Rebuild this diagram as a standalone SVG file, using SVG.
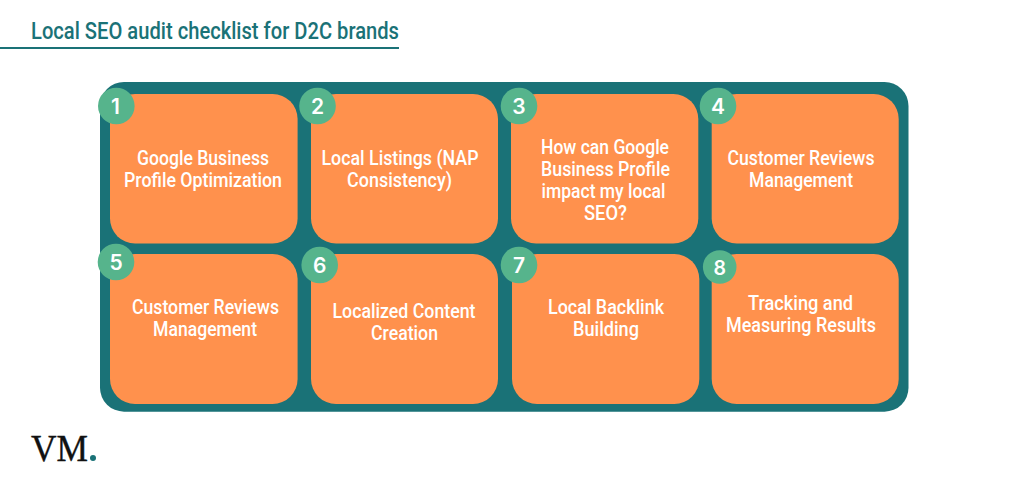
<svg xmlns="http://www.w3.org/2000/svg" width="1024" height="500" viewBox="0 0 1024 500">
<style>
.card{fill:#FF914D}
.badge{fill:#56B48C}
.num{font:600 21px "Inter","Liberation Sans",sans-serif;fill:#fff;text-anchor:middle}
.lbl{font:500 21px "Roboto","Liberation Sans",sans-serif;fill:#fff;text-anchor:middle}
.ttl{font:500 23.5px "Roboto","Liberation Sans",sans-serif;fill:#1A7277}
</style>
<rect width="1024" height="500" fill="#fff"/>
<text class="ttl" x="31" y="39" textLength="368" lengthAdjust="spacingAndGlyphs">Local SEO audit checklist for D2C brands</text>
<rect x="0" y="47" width="399" height="2" fill="#1A7277"/>
<rect x="100" y="82" width="808.500" height="329.700" rx="24" fill="#1A7277"/>
<g id="node1"><rect class="card" x="110" y="94" width="187.600" height="149.500" rx="25"/><circle class="badge" cx="116.300" cy="106" r="18.300"/><text class="num" x="115.500" y="114">1</text><text class="lbl" x="203" y="165" textLength="132" lengthAdjust="spacingAndGlyphs">Google Business</text><text class="lbl" x="203" y="187" textLength="158" lengthAdjust="spacingAndGlyphs">Profile Optimization</text></g>
<g id="node2"><rect class="card" x="311" y="94" width="187" height="149.500" rx="25"/><circle class="badge" cx="317.500" cy="106" r="18.300"/><text class="num" x="317.500" y="114">2</text><text class="lbl" x="400" y="164.500" textLength="157" lengthAdjust="spacingAndGlyphs">Local Listings (NAP</text><text class="lbl" x="399.500" y="186.500" textLength="105" lengthAdjust="spacingAndGlyphs">Consistency)</text></g>
<g id="node3"><rect class="card" x="511" y="94" width="187.300" height="149.500" rx="25"/><circle class="badge" cx="519" cy="106" r="18.300"/><text class="num" x="519" y="114">3</text><text class="lbl" x="605" y="153.500" textLength="128" lengthAdjust="spacingAndGlyphs">How can Google</text><text class="lbl" x="605.500" y="175.500" textLength="129" lengthAdjust="spacingAndGlyphs">Business Profile</text><text class="lbl" x="603.500" y="197.500" textLength="124" lengthAdjust="spacingAndGlyphs">impact my local</text><text class="lbl" x="605.500" y="219.500" textLength="43" lengthAdjust="spacingAndGlyphs">SEO?</text></g>
<g id="node4"><rect class="card" x="711.700" y="94" width="187" height="149.500" rx="25"/><circle class="badge" cx="718" cy="106" r="18.300"/><text class="num" x="718" y="114">4</text><text class="lbl" x="801" y="164.500" textLength="147" lengthAdjust="spacingAndGlyphs">Customer Reviews</text><text class="lbl" x="801" y="186.500" textLength="104" lengthAdjust="spacingAndGlyphs">Management</text></g>
<g id="node5"><rect class="card" x="110" y="254" width="187.600" height="150" rx="25"/><circle class="badge" cx="116" cy="262" r="18.300"/><text class="num" x="116" y="270">5</text><text class="lbl" x="205.500" y="313.500" textLength="147" lengthAdjust="spacingAndGlyphs">Customer Reviews</text><text class="lbl" x="205" y="335.500" textLength="104" lengthAdjust="spacingAndGlyphs">Management</text></g>
<g id="node6"><rect class="card" x="311" y="254" width="187" height="150" rx="25"/><circle class="badge" cx="319.700" cy="265" r="18.300"/><text class="num" x="319.700" y="273">6</text><text class="lbl" x="404" y="317.500" textLength="143" lengthAdjust="spacingAndGlyphs">Localized Content</text><text class="lbl" x="404.500" y="339.500" textLength="67" lengthAdjust="spacingAndGlyphs">Creation</text></g>
<g id="node7"><rect class="card" x="512" y="254" width="187.300" height="150" rx="25"/><circle class="badge" cx="519" cy="265" r="18.300"/><text class="num" x="519" y="273">7</text><text class="lbl" x="606" y="313.500" textLength="116" lengthAdjust="spacingAndGlyphs">Local Backlink</text><text class="lbl" x="606" y="335.500" textLength="66" lengthAdjust="spacingAndGlyphs">Building</text></g>
<g id="node8"><rect class="card" x="711.700" y="254" width="187" height="150" rx="25"/><circle class="badge" cx="719.700" cy="267" r="16.800"/><text class="num" x="719.700" y="275" style="font-size:19.500px">8</text><text class="lbl" x="800.500" y="309.500" textLength="105" lengthAdjust="spacingAndGlyphs">Tracking and</text><text class="lbl" x="801" y="331.500" textLength="150" lengthAdjust="spacingAndGlyphs">Measuring Results</text></g>
<text x="31" y="461" font-family="'Liberation Serif',serif" font-size="38" textLength="57" lengthAdjust="spacingAndGlyphs" fill="#111" stroke="#111" stroke-width=".4">VM</text>
<circle cx="93" cy="458" r="3" fill="#1A7277"/>
</svg>
